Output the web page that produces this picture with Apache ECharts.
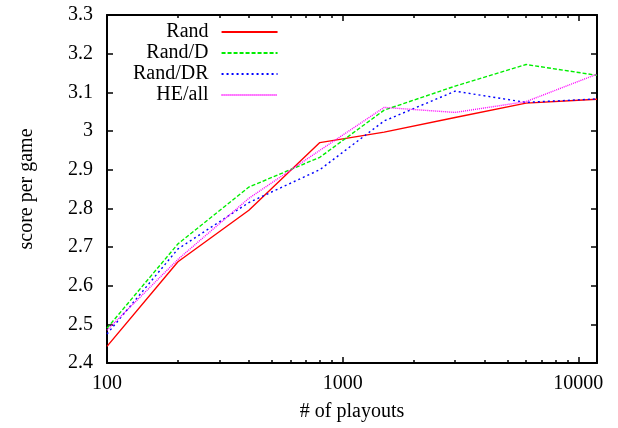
<!DOCTYPE html>
<html>
<head>
<meta charset="utf-8">
<script src="https://cdn.jsdelivr.net/npm/echarts@6/dist/echarts.min.js"></script>
<style>
  html, body { margin: 0; padding: 0; background: #fff; }
  #main { width: 618px; height: 428px; }
</style>
</head>
<body>
<div id="main"></div>
<script>
// 数据
var playouts = [100, 200, 400, 800, 1500, 3000, 6000, 12000];
var rand   = [2.443, 2.662, 2.795, 2.970, 2.997, 3.035, 3.072, 3.082];
var randD  = [2.490, 2.708, 2.855, 2.932, 3.054, 3.116, 3.172, 3.144];
var randDR = [2.475, 2.695, 2.815, 2.900, 3.026, 3.103, 3.074, 3.083];
var heAll  = [2.485, 2.668, 2.826, 2.950, 3.061, 3.048, 3.076, 3.147];
var seriesNames = ['Rand', 'Rand/D', 'Rand/DR', 'HE/all'];
var yTicks = [2.4, 2.5, 2.6, 2.7, 2.8, 2.9, 3, 3.1, 3.2, 3.3];

function pairs(ys) {
	var out = [];
	for (var i = 0; i < playouts.length; i++) {
		out.push([playouts[i], ys[i]]);
	}
	return out;
}

var font = 'Liberation Serif';
var fs = 20;
var myChart = echarts.init(document.getElementById('main'));

var xBase = {
	type : 'log',
	logBase : 10,
	min : 100,
	max : 12000,
	axisLine : { show : true, onZero : false, lineStyle : { color : '#000', width : 2 } },
	axisTick : { show : true, inside : true, length : 6, lineStyle : { color : '#000', width : 1.5 } },
	minorTick : { show : true, splitNumber : 9, length : 3, lineStyle : { color : '#000', width : 1.5 } },
	splitLine : { show : false },
	minorSplitLine : { show : false }
};
var yBase = {
	type : 'value',
	min : yTicks[0],
	max : yTicks[yTicks.length - 1],
	interval : 0.1,
	axisLine : { show : true, onZero : false, lineStyle : { color : '#000', width : 2 } },
	axisTick : { show : true, inside : true, length : 6, lineStyle : { color : '#000', width : 1.5 } },
	splitLine : { show : false }
};

function line(name, ys, color, type) {
	return {
		name : name,
		type : 'line',
		data : pairs(ys),
		symbol : 'none',
		animation : false,
		lineStyle : { color : color, width : 1.4, type : type },
		itemStyle : { color : color }
	};
}

myChart.setOption({
	animation : false,
	grid : { left : 107, right : 21, top : 15, bottom : 65 },
	legend : {
		orient : 'vertical',
		align : 'right',
		left : 128,
		top : 17,
		itemWidth : 56,
		itemHeight : 14,
		itemGap : 1,
		data : seriesNames,
		itemStyle : { opacity : 0 },
		textStyle : { fontFamily : font, fontSize : fs, color : '#000', padding : [0, 8, 0, 0] }
	},
	xAxis : [
		Object.assign({}, xBase, {
			position : 'bottom',
			name : '# of playouts',
			nameLocation : 'middle',
			nameGap : 39,
			nameTextStyle : { fontFamily : font, fontSize : fs, color : '#000' },
			axisLabel : {
				fontFamily : font, fontSize : fs, color : '#000', margin : 11,
				formatter : function (v) { return String(v); }
			}
		}),
		Object.assign({}, xBase, {
			position : 'top',
			axisLabel : { show : false }
		})
	],
	yAxis : [
		Object.assign({}, yBase, {
			position : 'left',
			name : 'score per game',
			nameLocation : 'middle',
			nameGap : 70,
			nameTextStyle : { fontFamily : font, fontSize : fs, color : '#000' },
			axisLabel : { fontFamily : font, fontSize : fs, color : '#000', margin : 14 }
		}),
		Object.assign({}, yBase, {
			position : 'right',
			axisLabel : { show : false }
		})
	],
	series : [
		line(seriesNames[0], rand, '#ff0000', 'solid'),
		line(seriesNames[1], randD, '#00ee00', [4, 2]),
		line(seriesNames[2], randDR, '#0000ff', [2, 3]),
		line(seriesNames[3], heAll, '#ff00ff', [1, 1])
	]
});
</script>
</body>
</html>
